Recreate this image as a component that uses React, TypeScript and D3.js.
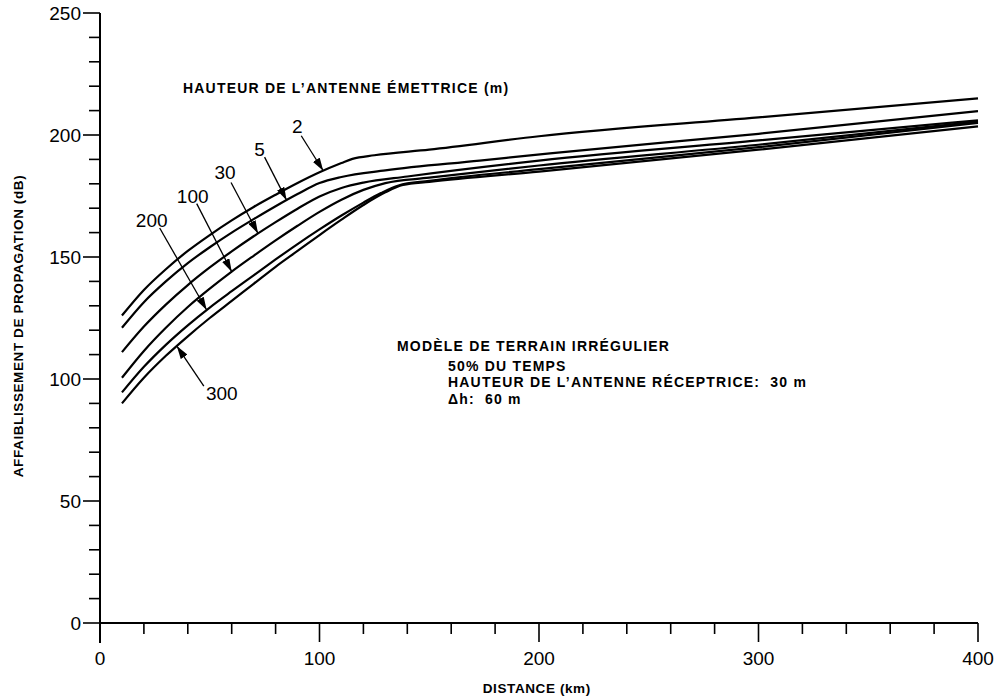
import React from "react";
import * as d3 from "d3";

// ---- Data (distance km, propagation loss dB) ----
const heights = ["2", "5", "30", "100", "200", "300"];

const dist2 = [10, 20, 30, 40, 50, 60, 70, 80, 90, 100, 110, 115, 125, 150, 200, 300, 400];
const loss2 = [126, 136.5, 145, 152.5, 159, 165, 170.5, 175.5, 180.3, 184.7, 188.5, 190.2, 191.7, 194, 199.5, 207.2, 215];

const dist5 = [10, 20, 30, 40, 50, 60, 70, 80, 90, 100, 110, 130, 173, 205, 300, 400];
const loss5 = [121, 131.5, 140, 147.5, 154, 160, 165.5, 170.8, 175.8, 180.3, 182.8, 185.5, 189.5, 192.5, 200.5, 209.8];

const dist30 = [10, 20, 30, 40, 50, 60, 70, 80, 90, 100, 110, 120, 140, 200, 300, 400];
const loss30 = [111, 121.5, 130.5, 138.5, 145.7, 152.3, 158.5, 164.3, 169.8, 174.8, 178.3, 180.5, 183, 189.5, 197.8, 206];

const dist100 = [10, 20, 30, 40, 50, 60, 70, 80, 90, 100, 110, 120, 130, 150, 200, 300, 400];
const loss100 = [100.5, 111.5, 121, 129.5, 137, 144, 150.5, 156.8, 162.8, 168.5, 173.5, 177.5, 180.3, 182.5, 187.5, 196, 205.5];

const dist200 = [10, 20, 30, 40, 50, 60, 70, 80, 90, 100, 110, 120, 128, 136, 150, 200, 300, 400];
const loss200 = [94.5, 105, 114, 122, 129.3, 136, 142.5, 149, 155.3, 161.3, 167, 172.3, 176.2, 179.3, 181.2, 186, 195, 205];

const dist300 = [10, 20, 30, 40, 50, 60, 70, 80, 90, 100, 110, 120, 130, 138, 150, 200, 300, 400];
const loss300 = [90, 100.5, 109.5, 117.5, 125, 132, 139, 146, 152.5, 159, 165.3, 171.3, 176.5, 179.5, 180.8, 185, 194, 203.5];

// distance where each label's arrow touches its curve
const arrowDist = [101.7, 85, 72, 60, 48.6, 35];

const xTicksMajor = [0, 100, 200, 300, 400];
const yTicksMajor = [0, 50, 100, 150, 200, 250];

const series = [
  [dist2, loss2],
  [dist5, loss5],
  [dist30, loss30],
  [dist100, loss100],
  [dist200, loss200],
  [dist300, loss300],
];

// ---- Layout ----
const W = 1007;
const H = 697;
const x = d3.scaleLinear().domain([0, 400]).range([100, 978]);
const y = d3.scaleLinear().domain([0, 250]).range([623, 13]);

// label placement relative to arrow tip (px): [arrowStartDx, arrowStartDy, labelDx, labelDy]
const labelOffsets = [
  [-22, -35, -26, -44],
  [-22, -43, -27, -51],
  [-27, -51, -33, -61],
  [-35, -68, -39, -75],
  [-47, -82, -55, -90],
  [27, 40, 45, 47],
];

const FONT = "'Liberation Sans', Arial, Helvetica, sans-serif";

function interp(ds: number[], vs: number[], d: number) {
  const i = d3.bisectRight(ds, d) - 1;
  const i0 = Math.max(0, Math.min(ds.length - 2, i));
  const t = (d - ds[i0]) / (ds[i0 + 1] - ds[i0]);
  return vs[i0] + t * (vs[i0 + 1] - vs[i0]);
}

export default function App() {
  const line = d3
    .line<[number, number]>()
    .x((p) => x(p[0]))
    .y((p) => y(p[1]))
    .curve(d3.curveMonotoneX);

  const xMinor = d3.range(0, 401, 20);
  const yMinor = d3.range(0, 251, 10);
  const x0 = x(0);
  const yb = y(0);

  const annot = { fontSize: 14, fontWeight: "bold" as const, letterSpacing: 1.2 };

  return (
    <svg
      width={W}
      height={H}
      style={{ position: "absolute", left: 0, top: 0, background: "#fff" }}
      fontFamily={FONT}
    >
      <defs>
        <marker
          id="ah"
          viewBox="0 0 13 8"
          refX="13"
          refY="4"
          markerWidth="13"
          markerHeight="8"
          markerUnits="userSpaceOnUse"
          orient="auto"
        >
          <path d="M0,0 L13,4 L0,8 Z" fill="#000" />
        </marker>
      </defs>

      {/* axes */}
      <line x1={x0} y1={y(250)} x2={x0} y2={yb + 20} stroke="#000" strokeWidth={2} />
      <line x1={x0} y1={yb} x2={x(400)} y2={yb} stroke="#000" strokeWidth={2} />

      {yMinor.map((v) => {
        const major = v % 50 === 0;
        return (
          <line
            key={"yt" + v}
            x1={x0 - (major ? 17 : 11)}
            x2={x0}
            y1={y(v)}
            y2={y(v)}
            stroke="#000"
            strokeWidth={1.6}
          />
        );
      })}
      {xMinor.map((d) => {
        const major = d % 100 === 0;
        if (d === 0) return null;
        return (
          <line
            key={"xt" + d}
            x1={x(d)}
            x2={x(d)}
            y1={yb}
            y2={yb + (major ? 19 : 11)}
            stroke="#000"
            strokeWidth={1.6}
          />
        );
      })}

      {yTicksMajor.map((v) => (
        <text
          key={"yl" + v}
          x={x0 - 19}
          y={y(v)}
          textAnchor="end"
          dominantBaseline="central"
          fontSize={19}
        >
          {v}
        </text>
      ))}
      {xTicksMajor.map((d) => (
        <text
          key={"xl" + d}
          x={x(d)}
          y={yb + 35}
          textAnchor="middle"
          dominantBaseline="central"
          fontSize={19}
        >
          {d}
        </text>
      ))}

      <text
        x={x(199)}
        y={688}
        textAnchor="middle"
        dominantBaseline="central"
        fontSize={13.5}
        fontWeight="bold"
        letterSpacing={0.6}
      >
        DISTANCE (km)
      </text>
      <text
        transform={`translate(18, 326) rotate(-90)`}
        textAnchor="middle"
        dominantBaseline="central"
        fontSize={13.5}
        fontWeight="bold"
        letterSpacing={0.6}
      >
        AFFAIBLISSEMENT DE PROPAGATION (dB)
      </text>

      {/* curves */}
      {series.map(([ds, vs], i) => (
        <path
          key={"c" + i}
          d={line(ds.map((d, k) => [d, vs[k]] as [number, number])) || ""}
          fill="none"
          stroke="#000"
          strokeWidth={2.2}
        />
      ))}

      {/* curve labels with arrows */}
      {heights.map((h, i) => {
        const [ds, vs] = series[i];
        const td = arrowDist[i];
        const tx = x(td);
        const ty = y(interp(ds, vs, td));
        const [sx, sy, lx, ly] = labelOffsets[i];
        return (
          <g key={"lab" + h}>
            <line
              x1={tx + sx}
              y1={ty + sy}
              x2={tx}
              y2={ty}
              stroke="#000"
              strokeWidth={1.3}
              markerEnd="url(#ah)"
            />
            <text
              x={tx + lx}
              y={ty + ly}
              textAnchor="middle"
              dominantBaseline="central"
              fontSize={19}
            >
              {h}
            </text>
          </g>
        );
      })}

      {/* annotations */}
      <text x={183} y={88} dominantBaseline="central" {...annot}>
        HAUTEUR DE L’ANTENNE ÉMETTRICE (m)
      </text>
      <text x={397} y={346} dominantBaseline="central" {...annot}>
        MODÈLE DE TERRAIN IRRÉGULIER
      </text>
      <text x={448} y={366} dominantBaseline="central" {...annot}>
        50% DU TEMPS
      </text>
      <text x={448} y={382} dominantBaseline="central" {...annot} xmlSpace="preserve">
        HAUTEUR DE L’ANTENNE RÉCEPTRICE:  30 m
      </text>
      <text x={448} y={399} dominantBaseline="central" {...annot} xmlSpace="preserve">
        Δh:  60 m
      </text>
    </svg>
  );
}
